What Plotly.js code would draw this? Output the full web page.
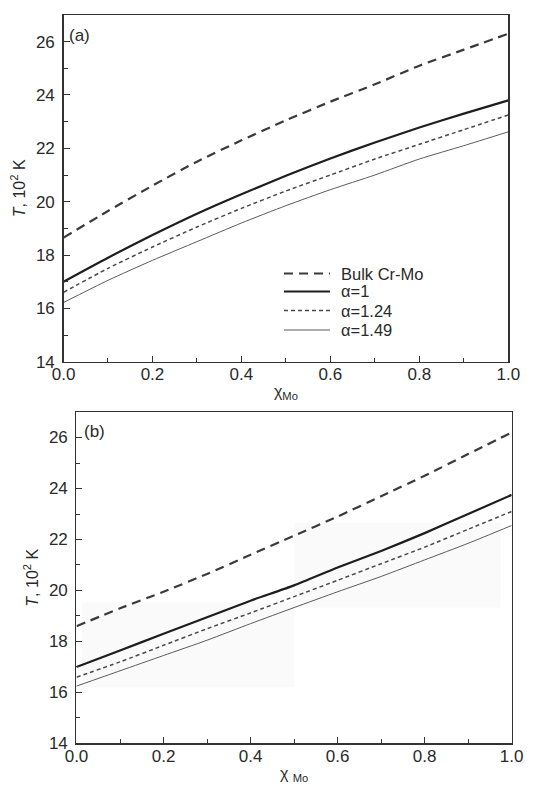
<!DOCTYPE html>
<html>
<head>
<meta charset="utf-8">
<script src="https://cdn.plot.ly/plotly-3.0.1.min.js"></script>
<style>
html,body{margin:0;padding:0;background:#fff;}
#chart{width:541px;height:789px;}
</style>
</head>
<body>
<div id="chart"></div>
<script>
// Shared x values (mole fraction of Mo)
const xMo = [0, 0.1, 0.2, 0.3, 0.4, 0.5, 0.6, 0.7, 0.8, 0.9, 1.0];

// Panel (a), T in 10^2 K
const aBulk  = [18.65, 19.65, 20.6, 21.5, 22.3, 23.05, 23.75, 24.4, 25.1, 25.7, 26.3];
const aAlpha1   = [17.0, 17.9, 18.75, 19.55, 20.28, 20.97, 21.62, 22.22, 22.78, 23.3, 23.8];
const aAlpha124 = [16.6, 17.5, 18.3, 19.05, 19.75, 20.4, 21.0, 21.6, 22.15, 22.7, 23.25];
const aAlpha149 = [16.22, 17.05, 17.8, 18.5, 19.2, 19.85, 20.45, 21.0, 21.6, 22.1, 22.62];

// Panel (b), T in 10^2 K
const bBulk  = [18.6, 19.3, 19.95, 20.65, 21.4, 22.15, 22.9, 23.7, 24.5, 25.35, 26.2];
const bAlpha1   = [17.0, 17.65, 18.3, 18.95, 19.6, 20.2, 20.9, 21.55, 22.25, 23.0, 23.75];
const bAlpha124 = [16.6, 17.2, 17.85, 18.5, 19.12, 19.76, 20.4, 21.05, 21.7, 22.4, 23.1];
const bAlpha149 = [16.25, 16.85, 17.45, 18.05, 18.7, 19.33, 19.95, 20.55, 21.2, 21.85, 22.55];

const seriesNames = ["Bulk Cr-Mo", "α=1", "α=1.24", "α=1.49"];
const xTicks = [0, 0.2, 0.4, 0.6, 0.8, 1.0];
const xTickText = ["0.0", "0.2", "0.4", "0.6", "0.8", "1.0"];
const yTicks = [14, 16, 18, 20, 22, 24, 26];

const styles = [
  {color: "#3a3a3a", width: 2.2, dash: "9px,6px"},
  {color: "#1e1e1e", width: 2.2, dash: "solid"},
  {color: "#4a4a4a", width: 1.5, dash: "4px,3px"},
  {color: "#5a5a5a", width: 1.0, dash: "solid"}
];

const aData = [aBulk, aAlpha1, aAlpha124, aAlpha149];
const bData = [bBulk, bAlpha1, bAlpha124, bAlpha149];

const traces = [];
aData.forEach((ys, i) => {
  traces.push({x: xMo, y: ys, type: "scatter", mode: "lines", name: seriesNames[i],
    line: Object.assign({shape: "spline", smoothing: 0.6}, styles[i]), xaxis: "x", yaxis: "y", showlegend: false});
});
bData.forEach((ys, i) => {
  traces.push({x: xMo, y: ys, type: "scatter", mode: "lines", name: seriesNames[i],
    line: Object.assign({shape: "spline", smoothing: 0.6}, styles[i]), xaxis: "x2", yaxis: "y2", showlegend: false});
});

const font = {family: "Liberation Sans, Arial, sans-serif", size: 17, color: "#2a2a2a"};
const titleFont = {family: "Liberation Sans, Arial, sans-serif", size: 16, color: "#2a2a2a"};

function xAxis(domain, anchor, title) {
  return {
    domain: domain, anchor: anchor, range: [0, 1], tickvals: xTicks, ticktext: xTickText,
    ticks: "inside", ticklen: 6, tickcolor: "#333", tickwidth: 1,
    minor: {ticks: "inside", dtick: 0.1, ticklen: 4, tickcolor: "#333"},
    showline: true, linecolor: "#333", linewidth: 1.3, mirror: true,
    showgrid: false, zeroline: false, tickfont: font, ticklabelstandoff: -3,
    title: {text: title, font: titleFont, standoff: 2}
  };
}
function yAxis(domain, anchor) {
  return {
    domain: domain, anchor: anchor, range: [14, 27], tickvals: yTicks,
    ticks: "inside", ticklen: 6, tickcolor: "#333", tickwidth: 1,
    minor: {ticks: "inside", dtick: 1, ticklen: 4, tickcolor: "#333"},
    showline: true, linecolor: "#333", linewidth: 1.3, mirror: true,
    showgrid: false, zeroline: false, tickfont: font, ticklabelstandoff: 4,
    title: {text: "<i>T</i>, 10<sup>2</sup> K", font: titleFont, standoff: 6}
  };
}

// Legend (drawn in panel a, in paper coordinates)
const legendRowsY = [273.5, 291.5, 310.5, 330];
const legendShapes = [];
const legendTexts = [];
seriesNames.forEach((nm, i) => {
  const yp = 1 - legendRowsY[i] / 789;
  legendShapes.push({type: "line", xref: "paper", yref: "paper", x0: 284 / 541, x1: 330 / 541, y0: yp, y1: yp,
    line: {color: styles[i].color, width: styles[i].width, dash: styles[i].dash}});
  legendTexts.push({text: nm, xref: "paper", yref: "paper", x: 339 / 541, y: yp, xanchor: "left", yanchor: "middle",
    showarrow: false, font: {family: font.family, size: 16.5, color: "#2a2a2a"}});
});

const layout = {
  width: 541, height: 789,
  margin: {l: 0, r: 0, t: 0, b: 0},
  paper_bgcolor: "#fff", plot_bgcolor: "#fff",
  font: font,
  showlegend: false,
  xaxis: xAxis([0.1174, 0.9396], "y", "χ<sub>Mo</sub>"),
  yaxis: yAxis([0.5416, 0.981], "x"),
  xaxis2: xAxis([0.1414, 0.9458], "y2", "χ <sub>Mo</sub>"),
  yaxis2: yAxis([0.0577, 0.4778], "x2"),
  annotations: [
    {text: "(a)", xref: "x domain", yref: "y domain", x: 0.008, y: 0.975, xanchor: "left", yanchor: "top", showarrow: false, font: font},
    {text: "(b)", xref: "x2 domain", yref: "y2 domain", x: 0.012, y: 0.975, xanchor: "left", yanchor: "top", showarrow: false, font: font}
  ].concat(legendTexts),
  shapes: [
    {type: "rect", xref: "x2 domain", yref: "y2 domain", x0: 0.013, x1: 0.5, y0: 0.17, y1: 0.425, fillcolor: "#fafafa", line: {width: 0}, layer: "below"},
    {type: "rect", xref: "x2 domain", yref: "y2 domain", x0: 0.5, x1: 0.975, y0: 0.41, y1: 0.665, fillcolor: "#fafafa", line: {width: 0}, layer: "below"}
  ].concat(legendShapes)
};

Plotly.newPlot("chart", traces, layout, {displayModeBar: false, staticPlot: true});
</script>
</body>
</html>
